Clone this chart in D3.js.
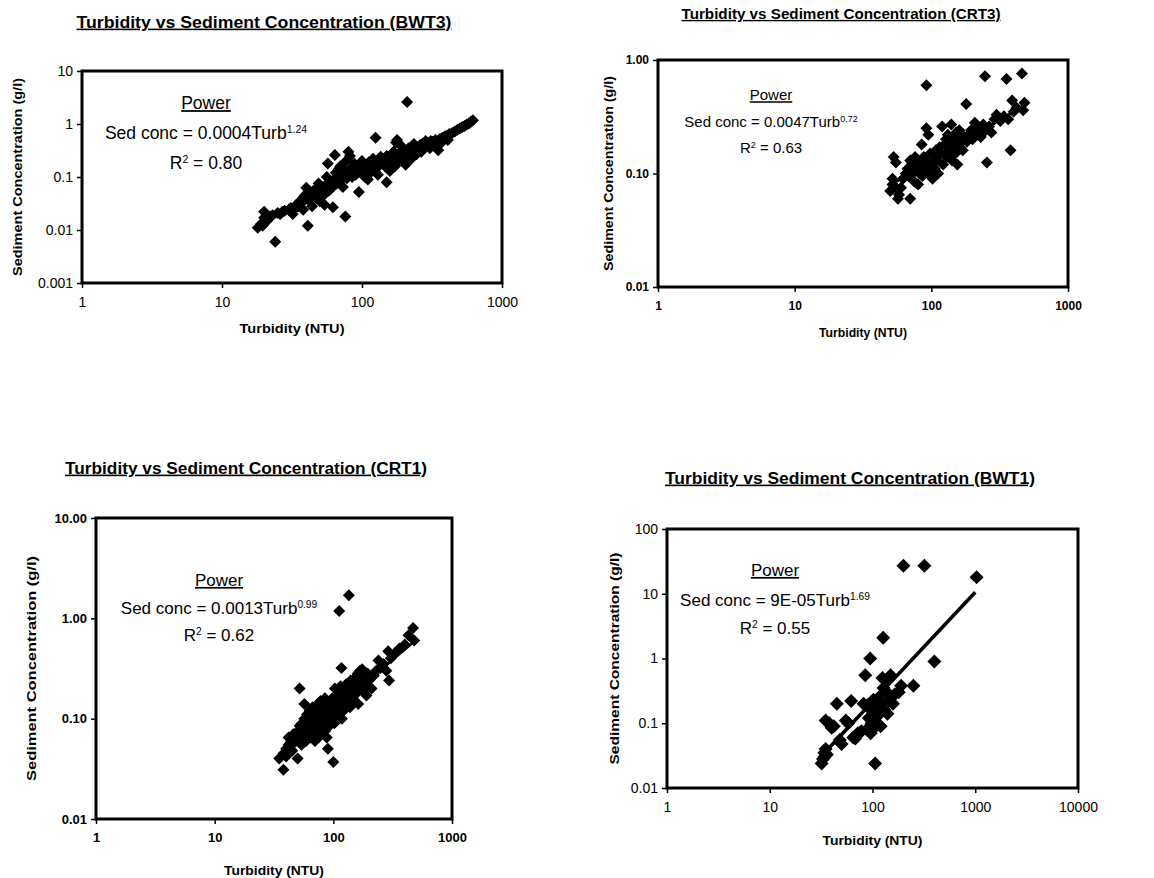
<!DOCTYPE html>
<html>
<head>
<meta charset="utf-8">
<script src="https://cdn.jsdelivr.net/npm/d3@7"></script>
<style>
  body { margin: 0; background: #fff; }
  svg text { font-family: "Liberation Sans", Arial, sans-serif; fill: #000; }
</style>
</head>
<body>
<svg id="chart" width="1154" height="878"></svg>
<script>
// ---- data (turbidity NTU, sediment g/l) ----
var bwt3Points = [
	[18,0.011],[19,0.013],[19.5,0.012],[20,0.022],[20,0.017],[21,0.015],[22,0.018],[23,0.019],[24,0.006],[25,0.021],
	[26,0.02],[27,0.022],[28,0.023],[30,0.024],[31,0.026],[32,0.02],[33,0.025],[34,0.03],[35,0.028],[36,0.035],[37,0.032],
	[38,0.04],[38,0.024],[39,0.045],[40,0.063],[41,0.012],[42,0.036],[43,0.05],[44,0.042],[44,0.028],[45,0.055],[46,0.048],[47,0.04],
	[48,0.06],[49,0.075],[50,0.052],[50,0.035],[52,0.065],[53,0.045],[54,0.03],[55,0.07],[56,0.1],[57,0.18],[58,0.055],[60,0.08],
	[60,0.06],[62,0.027],[63,0.09],[64,0.26],[65,0.12],[66,0.075],[67,0.1],[68,0.14],[70,0.085],[70,0.16],
	[72,0.11],[73,0.065],[75,0.13],[76,0.018],[77,0.2],[78,0.095],[80,0.3],[80,0.12],[82,0.25],[84,0.15],
	[85,0.1],[87,0.13],[88,0.18],[90,0.11],[92,0.14],[95,0.052],[96,0.16],[98,0.12],[100,0.2],[100,0.13],
	[103,0.15],[105,0.1],[108,0.17],[110,0.14],[110,0.09],[112,0.19],[115,0.12],[118,0.16],[120,0.22],[122,0.18],[125,0.55],
	[128,0.15],[130,0.2],[130,0.11],[133,0.17],[136,0.24],[140,0.19],[143,0.21],[146,0.16],[150,0.08],[150,0.25],[155,0.22],
	[158,0.13],[160,0.18],[165,0.23],[168,0.3],[170,0.27],[172,0.16],[175,0.45],[178,0.5],[180,0.2],[185,0.28],[188,0.4],[190,0.24],[195,0.33],[200,0.3],
	[200,0.2],[205,0.17],[210,2.6],[210,0.26],[215,0.35],[220,0.3],[225,0.22],[230,0.33],[235,0.42],[240,0.38],[245,0.27],[250,0.36],[260,0.4],[265,0.3],[270,0.42],
	[280,0.37],[285,0.48],[290,0.45],[300,0.43],[305,0.35],[310,0.48],[320,0.46],[330,0.4],[335,0.5],[350,0.32],[360,0.52],[370,0.45],[375,0.55],[390,0.58],
	[400,0.6],[410,0.5],[420,0.65],[440,0.68],[460,0.72],[480,0.78],[500,0.82],[520,0.88],[540,0.92],[560,0.98],[580,1.02],
	[600,1.1],[620,1.18]
]
var crt3Points = [
	[50,0.07],[52,0.09],[52,0.08],[53,0.14],[55,0.125],[55,0.075],[57,0.06],[58,0.065],[60,0.075],[62,0.09],
	[65,0.1],[67,0.11],[68,0.095],[70,0.06],[70,0.13],[72,0.12],[73,0.1],[75,0.085],[76,0.14],[78,0.11],
	[80,0.08],[80,0.13],[82,0.1],[84,0.12],[85,0.18],[86,0.095],[88,0.14],[90,0.11],[90,0.13],[92,0.6],
	[92,0.25],[95,0.22],[96,0.1],[98,0.15],[100,0.12],[102,0.09],[104,0.14],[106,0.11],[108,0.16],[110,0.13],
	[112,0.1],[115,0.17],[118,0.15],[120,0.26],[122,0.12],[125,0.18],[128,0.2],[130,0.14],[132,0.22],[135,0.16],
	[138,0.19],[140,0.27],[142,0.13],[145,0.2],[148,0.17],[150,0.15],[152,0.23],[155,0.12],[158,0.18],[160,0.24],
	[165,0.2],[170,0.16],[175,0.21],[180,0.41],[182,0.19],[188,0.22],[195,0.24],[200,0.2],[208,0.28],[215,0.25],
	[220,0.22],[230,0.21],[240,0.27],[247,0.72],[250,0.24],[255,0.125],[265,0.26],[275,0.23],[290,0.3],[300,0.33],
	[320,0.29],[340,0.32],[355,0.68],[365,0.3],[380,0.16],[390,0.44],[400,0.35],[420,0.38],[460,0.76],[470,0.36],
	[480,0.42]
]
var crt1Points = [
	[35,0.04],[38,0.031],[38,0.045],[40,0.05],[40,0.042],[42,0.055],[42,0.065],[44,0.06],[45,0.048],[46,0.07],
	[47,0.058],[48,0.065],[50,0.04],[50,0.075],[51,0.06],[52,0.2],[52,0.085],[53,0.07],[54,0.055],[55,0.09],
	[56,0.065],[57,0.14],[57,0.1],[58,0.08],[59,0.06],[60,0.11],[60,0.07],[61,0.09],[62,0.075],[63,0.12],
	[63,0.085],[64,0.065],[65,0.1],[66,0.08],[67,0.13],[67,0.07],[68,0.095],[69,0.11],[70,0.085],[70,0.06],
	[71,0.12],[72,0.1],[73,0.075],[74,0.14],[75,0.09],[75,0.065],[76,0.11],[77,0.1],[78,0.08],[78,0.15],
	[79,0.12],[80,0.095],[80,0.07],[82,0.11],[83,0.13],[84,0.09],[85,0.16],[85,0.075],[86,0.1],[88,0.12],
	[88,0.065],[90,0.05],[90,0.14],[92,0.1],[93,0.085],[95,0.13],[96,0.11],[98,0.16],[100,0.037],[100,0.12],
	[102,0.09],[103,0.2],[105,0.14],[107,0.11],[110,0.17],[112,1.18],[112,0.13],[115,0.21],[117,0.32],[118,0.1],
	[120,0.15],[122,0.12],[125,0.18],[128,0.22],[130,0.14],[133,0.17],[135,1.7],[135,0.2],[138,0.13],[140,0.24],
	[143,0.16],[146,0.19],[150,0.15],[152,0.22],[155,0.26],[158,0.18],[160,0.28],[162,0.14],[165,0.21],[168,0.3],
	[172,0.24],[175,0.31],[178,0.19],[182,0.26],[186,0.22],[190,0.17],[195,0.28],[200,0.24],[210,0.2],[220,0.27],
	[230,0.3],[240,0.38],[250,0.32],[265,0.35],[280,0.3],[290,0.47],[295,0.24],[305,0.4],[330,0.45],[360,0.5],
	[400,0.55],[430,0.68],[470,0.8],[480,0.6]
]
var bwt1Points = [
	[32,0.024],[33,0.028],[34,0.03],[34,0.035],[35,0.04],[36,0.033],[35,0.11],[38,0.1],[40,0.085],[42,0.09],
	[45,0.2],[48,0.055],[50,0.048],[55,0.11],[58,0.1],[62,0.22],[65,0.06],[68,0.058],[72,0.07],[78,0.075],
	[82,0.2],[85,0.55],[88,0.08],[90,0.19],[92,0.12],[95,1.0],[96,0.07],[98,0.1],[100,0.15],[102,0.23],
	[104,0.085],[105,0.11],[106,0.024],[108,0.18],[110,0.13],[112,0.095],[115,0.25],[118,0.14],[120,0.09],[122,0.2],
	[125,0.5],[127,2.1],[128,0.35],[130,0.16],[135,0.45],[138,0.3],[140,0.14],[145,0.22],[150,0.55],[158,0.2],
	[165,0.28],[180,0.3],[190,0.38],[200,27],[250,0.38],[320,27],[400,0.9],[1030,18]
]

// power fits: [coefficient, exponent, fromTurb, toTurb]
var bwt3Fit = [0.0004, 1.24, 19, 610]
var crt3Fit = [0.0047, 0.72, 50, 490]
var crt1Fit = [0.0013, 0.99, 35, 490]
var bwt1Fit = [0.00009, 1.69, 32, 1000]

var xTicks3 = [1, 10, 100, 1000]
var xTicks4 = [1, 10, 100, 1000, 10000]
var xLabels3 = ["1", "10", "100", "1000"]
var xLabels4 = ["1", "10", "100", "1000", "10000"]
var yTicksBWT3 = [0.001, 0.01, 0.1, 1, 10]
var yLabelsBWT3 = ["0.001", "0.01", "0.1", "1", "10"]
var yTicksCRT3 = [0.01, 0.1, 1]
var yLabelsCRT3 = ["0.01", "0.10", "1.00"]
var yTicksCRT1 = [0.01, 0.1, 1, 10]
var yLabelsCRT1 = ["0.01", "0.10", "1.00", "10.00"]
var yTicksBWT1 = [0.01, 0.1, 1, 10, 100]
var yLabelsBWT1 = ["0.01", "0.1", "1", "10", "100"]

// ---- layout per panel (widths are the scanned text widths) ----
var panels = [
	{ title: "Turbidity vs Sediment Concentration (BWT3)", points: bwt3Points, fit: bwt3Fit, coef: "0.0004", r2: "0.80",
	  xTicks: xTicks3, xLabels: xLabels3, yTicks: yTicksBWT3, yLabels: yLabelsBWT3,
	  box: [82, 71, 502, 283], titleX: 264, titleY: 22, titleSize: 16, titleW: 375, tickSize: 14, tickWeight: "normal",
	  xLabelY: 328, xLabelW: 105, yLabelX: 17, yLabelW: 198, axisSize: 13,
	  eqX: 206, powerY: 103, eqY: 133, r2Y: 163, eqSize: 17.5, mark: 6, lineW: 2.5 },
	{ title: "Turbidity vs Sediment Concentration (CRT3)", points: crt3Points, fit: crt3Fit, coef: "0.0047", r2: "0.63",
	  xTicks: xTicks3, xLabels: xLabels3, yTicks: yTicksCRT3, yLabels: yLabelsCRT3,
	  box: [658, 60, 1068, 287], titleX: 841, titleY: 14, titleSize: 14, titleW: 319, tickSize: 12, tickWeight: "bold",
	  xLabelY: 333, xLabelW: 88, yLabelX: 609, yLabelW: 195, axisSize: 12,
	  eqX: 771, powerY: 95, eqY: 122, r2Y: 148, eqSize: 15, mark: 6, lineW: 2.5 },
	{ title: "Turbidity vs Sediment Concentration (CRT1)", points: crt1Points, fit: crt1Fit, coef: "0.0013", r2: "0.62",
	  xTicks: xTicks3, xLabels: xLabels3, yTicks: yTicksCRT1, yLabels: yLabelsCRT1,
	  box: [96, 518, 452, 819], titleX: 246, titleY: 468, titleSize: 16, titleW: 362, tickSize: 13, tickWeight: "bold",
	  xLabelY: 870, xLabelW: 100, yLabelX: 31, yLabelW: 225, axisSize: 13,
	  eqX: 219, powerY: 580, eqY: 608, r2Y: 635, eqSize: 17, mark: 6, lineW: 2.5 },
	{ title: "Turbidity vs Sediment Concentration (BWT1)", points: bwt1Points, fit: bwt1Fit, coef: "9E-05", r2: "0.55",
	  xTicks: xTicks4, xLabels: xLabels4, yTicks: yTicksBWT1, yLabels: yLabelsBWT1,
	  box: [667, 529, 1078, 788], titleX: 850, titleY: 478, titleSize: 16, titleW: 370, tickSize: 14, tickWeight: "normal",
	  xLabelY: 840, xLabelW: 100, yLabelX: 614, yLabelW: 212, axisSize: 13,
	  eqX: 775, powerY: 570, eqY: 600, r2Y: 628, eqSize: 17, mark: 7, lineW: 3.5 }
]

var svg = d3.select("#chart")

var diamond = (r) => "M0," + (-r) + "L" + r + ",0L0," + r + "L" + (-r) + ",0Z"

function drawPanel(p) {
	var b = p.box
	var g = svg.append("g")

	var x = d3.scaleLog().domain([p.xTicks[0], p.xTicks[p.xTicks.length - 1]]).range([b[0], b[2]])
	var y = d3.scaleLog().domain([p.yTicks[0], p.yTicks[p.yTicks.length - 1]]).range([b[3], b[1]])

	// title
	g.append("text")
		.attr("x", p.titleX).attr("y", p.titleY).attr("dy", "0.35em")
		.attr("text-anchor", "middle")
		.attr("textLength", p.titleW).attr("lengthAdjust", "spacingAndGlyphs")
		.style("font-size", p.titleSize + "px").style("font-weight", "bold")
		.style("text-decoration", "underline")
		.text(p.title)

	// axes
	var xa = g.append("g").attr("transform", "translate(0," + b[3] + ")")
		.call(d3.axisBottom(x).tickValues(p.xTicks).tickFormat((d, i) => p.xLabels[i]).tickSize(5).tickPadding(9))
	var ya = g.append("g").attr("transform", "translate(" + b[0] + ",0)")
		.call(d3.axisLeft(y).tickValues(p.yTicks).tickFormat((d, i) => p.yLabels[i]).tickSize(5).tickPadding(4))
	;[xa, ya].forEach(a => {
		a.select(".domain").remove()
		a.selectAll("line").attr("stroke", "#000").attr("stroke-width", 1.5)
		a.selectAll("text")
			.style("font-family", "'Liberation Sans', Arial, sans-serif")
			.style("font-size", p.tickSize + "px").style("font-weight", p.tickWeight)
	})

	// frame
	g.append("rect")
		.attr("x", b[0]).attr("y", b[1]).attr("width", b[2] - b[0]).attr("height", b[3] - b[1])
		.attr("fill", "none").attr("stroke", "#000").attr("stroke-width", 3)

	// axis titles
	g.append("text")
		.attr("x", (b[0] + b[2]) / 2).attr("y", p.xLabelY).attr("dy", "0.35em")
		.attr("text-anchor", "middle")
		.attr("textLength", p.xLabelW).attr("lengthAdjust", "spacingAndGlyphs")
		.style("font-size", p.axisSize + "px").style("font-weight", "bold")
		.text("Turbidity (NTU)")
	g.append("text")
		.attr("transform", "translate(" + p.yLabelX + "," + ((b[1] + b[3]) / 2) + ") rotate(-90)")
		.attr("dy", "0.35em")
		.attr("text-anchor", "middle")
		.attr("textLength", p.yLabelW).attr("lengthAdjust", "spacingAndGlyphs")
		.style("font-size", p.axisSize + "px").style("font-weight", "bold")
		.text("Sediment Concentration (g/l)")

	// points
	g.append("g").selectAll("path")
		.data(p.points)
		.join("path")
		.attr("transform", d => "translate(" + x(d[0]) + "," + y(d[1]) + ")")
		.attr("d", diamond(p.mark))
		.attr("fill", "#000")

	// power trend line
	var f = p.fit
	var ends = [f[2], f[3]].map(t => [t, f[0] * Math.pow(t, f[1])])
	g.append("path")
		.datum(ends)
		.attr("d", d3.line().x(d => x(d[0])).y(d => y(d[1])))
		.attr("stroke", "#000").attr("stroke-width", p.lineW).attr("fill", "none")

	// equation text
	g.append("text")
		.attr("x", p.eqX).attr("y", p.powerY).attr("dy", "0.35em")
		.attr("text-anchor", "middle")
		.style("font-size", p.eqSize + "px")
		.style("text-decoration", "underline")
		.text("Power")
	var eq = g.append("text")
		.attr("x", p.eqX).attr("y", p.eqY).attr("dy", "0.35em")
		.attr("text-anchor", "middle")
		.style("font-size", p.eqSize + "px")
	eq.append("tspan").text("Sed conc = " + p.coef + "Turb")
	eq.append("tspan").attr("dy", "-0.6em").style("font-size", "0.6em").text(f[1].toFixed(2))
	var r2 = g.append("text")
		.attr("x", p.eqX).attr("y", p.r2Y).attr("dy", "0.35em")
		.attr("text-anchor", "middle")
		.style("font-size", p.eqSize + "px")
	r2.append("tspan").text("R")
	r2.append("tspan").attr("dy", "-0.55em").style("font-size", "0.6em").text("2")
	r2.append("tspan").attr("dy", "0.33em").text(" = " + p.r2)
}

panels.forEach(drawPanel)
</script>
</body>
</html>
